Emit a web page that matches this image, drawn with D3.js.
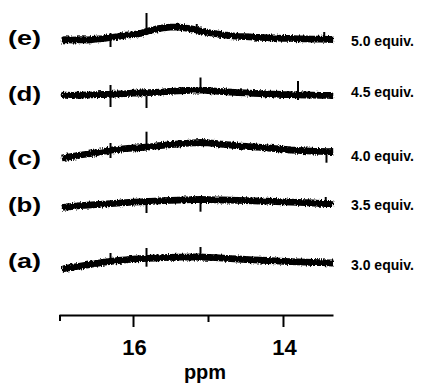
<!DOCTYPE html>
<html>
<head>
<meta charset="utf-8">
<script src="https://cdn.jsdelivr.net/npm/d3@7"></script>
<style>
  body { margin: 0; background: #fff; }
  svg { display: block; }
  text { font-family: Arial, "Liberation Sans", sans-serif; font-weight: bold; fill: #000; }
</style>
</head>
<body>
<div id="chart"></div>
<script>
// chemical shift grid (ppm) shared by every trace
var ppm = [16.95, 16.9, 16.8, 16.7, 16.6, 16.5, 16.4, 16.3, 16.2, 16.1, 16.0, 15.9, 15.8,
    15.7, 15.6, 15.5, 15.4, 15.3, 15.2, 15.1, 15.0, 14.9, 14.8, 14.7, 14.6, 14.5, 14.4,
    14.3, 14.2, 14.1, 14.0, 13.9, 13.8, 13.7, 13.6, 13.5, 13.4, 13.33];

var traceNames = ["(a)", "(b)", "(c)", "(d)", "(e)"];
var equivLabels = ["3.0 equiv.", "3.5 equiv.", "4.0 equiv.", "4.5 equiv.", "5.0 equiv."];
var stackOffsets = [0, 56, 103, 167.5, 223];

// intensities (a.u.)
var traceA = [-6, -5.4, -4.2, -3, -1.8, -0.5, 0.7, 1.7, 2.5, 3.2, 3.8, 4.3, 4.7, 5, 5.3, 5.6, 5.8,
    5.9, 6, 6, 5.7, 5.3, 4.8, 4.4, 4, 3.5, 3.1, 2.8, 2.5, 2.1, 1.7, 1.4, 1.1, 0.8, 0.5, 0.3, 0.1, 0];
var traceB = [-0.5, 0, 0.7, 1.3, 1.8, 2.3, 2.8, 3.3, 3.8, 4.3, 4.8, 5.2, 5.5, 5.9, 6.3, 6.6, 6.9,
    7.2, 7.4, 7.5, 7.4, 7.2, 7, 6.8, 6.6, 6.4, 6.2, 6, 5.8, 5.5, 5.2, 4.9, 4.6, 4.3, 4, 3.7, 3.5, 3.3];
var traceC = [2, 2.7, 3.7, 5, 6, 7.2, 8.5, 9.8, 10.7, 11.4, 12, 12.4, 13, 14, 14.7, 15.4, 16,
    16.7, 17.2, 17.5, 17.2, 16.5, 15.7, 15, 14.2, 13.7, 13.2, 12.6, 12, 11.4, 10.8, 10, 9.6, 9.2,
    8.8, 8.6, 8.4, 8.5];
var traceD = [0, 0.3, 0, 0.5, 0.4, 0.8, 1, 1.2, 1.6, 1.8, 2.3, 2.5, 2.8, 3.2, 3.6, 4.2, 4.6, 5,
    5.4, 5.6, 5, 4.4, 3.8, 3.3, 2.9, 2.6, 2.2, 1.9, 1.5, 1.3, 1, 0.9, 0.6, 0.5, 0.3, 0.2, 0.2, 0];
var traceE = [0, 0.3, -0.2, 0.4, 0, 0.9, 1.3, 2.5, 3.5, 4.9, 5.4, 6.6, 9, 10.8, 12.2, 12.8, 12.8,
    12, 10.8, 9, 7.5, 6.3, 5.2, 4.4, 3.7, 3.3, 2.8, 2.6, 2.2, 2.1, 1.6, 1.6, 1.2, 1.2, 0.9, 0.9,
    0.6, 0.5];

// sharp spikes: [ppm, top, bottom]
var spikesA = [[16.30, 10, 2], [15.82, 15, -3.7], [15.10, 16, 6]];
var spikesB = [[15.82, 6, -6], [15.10, 7.5, -4.7], [13.43, 10, 3]];
var spikesC = [[16.30, 17, 2], [15.82, 28.3, 13], [13.42, 8, -2.7]];
var spikesD = [[16.30, 10.5, -11.5], [15.82, 0, -12.5], [15.10, 18, 7], [13.80, 14.5, -4.5]];
var spikesE = [[16.30, 7, -7], [15.82, 27, 5], [15.15, 16, 8], [13.45, 8, 0]];

var majorTicks = [16, 14];
var minorTicks = [15];
var ppmDomain = [16.987, 13.333];

var traces = [traceA, traceB, traceC, traceD, traceE];
var spikes = [spikesA, spikesB, spikesC, spikesD, spikesE];

var width = 425, height = 386;
var equivNudge = [7, 3, 0.5, 1.5, 6];

var svg = d3.select("#chart").append("svg")
    .attr("width", width)
    .attr("height", height);

// rough edge for the noisy baseline band
var filt = svg.append("defs").append("filter")
    .attr("id", "noise")
    .attr("x", "-5%").attr("y", "-50%")
    .attr("width", "110%").attr("height", "200%");
filt.append("feTurbulence")
    .attr("type", "fractalNoise")
    .attr("baseFrequency", "0.8 0.35")
    .attr("numOctaves", 2)
    .attr("seed", 3)
    .attr("result", "turb");
filt.append("feDisplacementMap")
    .attr("in", "SourceGraphic")
    .attr("in2", "turb")
    .attr("scale", 4)
    .attr("xChannelSelector", "R")
    .attr("yChannelSelector", "G");

var x = d3.scaleLinear().domain(ppmDomain).range([59, 333]);
var y = d3.scaleLinear().domain([0, 223]).range([263, 40]);

var line = d3.line()
    .x(function (d, i) { return x(ppm[i]); })
    .y(function (d) { return y(d.v + d.off); });

var rows = svg.selectAll("g.row").data(traces).enter()
    .append("g").attr("class", "row");

rows.append("path")
    .attr("d", function (d, i) {
        return line(d.map(function (v) { return { v: v, off: stackOffsets[i] }; }));
    })
    .attr("filter", "url(#noise)")
    .style("fill", "none")
    .style("stroke", "#000")
    .style("stroke-width", 6.8)
    .style("stroke-linejoin", "round");

rows.each(function (d, i) {
    d3.select(this).selectAll("line.spike").data(spikes[i]).enter()
        .append("line")
        .attr("class", "spike")
        .attr("x1", function (s) { return x(s[0]); })
        .attr("x2", function (s) { return x(s[0]); })
        .attr("y1", function (s) { return y(s[1] + stackOffsets[i]); })
        .attr("y2", function (s) { return y(s[2] + stackOffsets[i]); })
        .style("stroke", "#000")
        .style("stroke-width", 2);
});

rows.append("text")
    .attr("x", 8)
    .attr("y", function (d, i) { return y(stackOffsets[i]) + 5; })
    .attr("textLength", 33)
    .attr("lengthAdjust", "spacingAndGlyphs")
    .style("font-size", "20px")
    .text(function (d, i) { return traceNames[i]; });

rows.append("text")
    .attr("x", 351)
    .attr("y", function (d, i) { return y(stackOffsets[i]) + equivNudge[i]; })
    .style("font-size", "14px")
    .text(function (d, i) { return equivLabels[i]; });

// ppm axis
var axisY = 315;
var axis = d3.axisBottom(x)
    .tickValues(majorTicks.concat(minorTicks))
    .tickSizeOuter(0)
    .tickFormat("");

var gAxis = svg.append("g")
    .attr("transform", "translate(0," + axisY + ")")
    .call(axis);

gAxis.select(".domain").style("stroke", "#000").style("stroke-width", 2.2);
gAxis.selectAll(".tick line")
    .attr("y2", function (d) { return majorTicks.indexOf(d) >= 0 ? 12 : 7; })
    .style("stroke", "#000")
    .style("stroke-width", 2);

gAxis.append("line")
    .attr("x1", x(ppmDomain[0]) + 1).attr("x2", x(ppmDomain[0]) + 1)
    .attr("y1", 0).attr("y2", 6)
    .style("stroke", "#000").style("stroke-width", 2);

svg.selectAll("text.tick-label").data(majorTicks).enter()
    .append("text")
    .attr("class", "tick-label")
    .attr("x", function (d) { return x(d) + 1.5; })
    .attr("y", 355)
    .attr("text-anchor", "middle")
    .style("font-size", "22px")
    .text(function (d) { return d; });

svg.append("text")
    .attr("x", x(15) - 3)
    .attr("y", 378.5)
    .attr("text-anchor", "middle")
    .style("font-size", "20px")
    .text("ppm");
</script>
</body>
</html>
